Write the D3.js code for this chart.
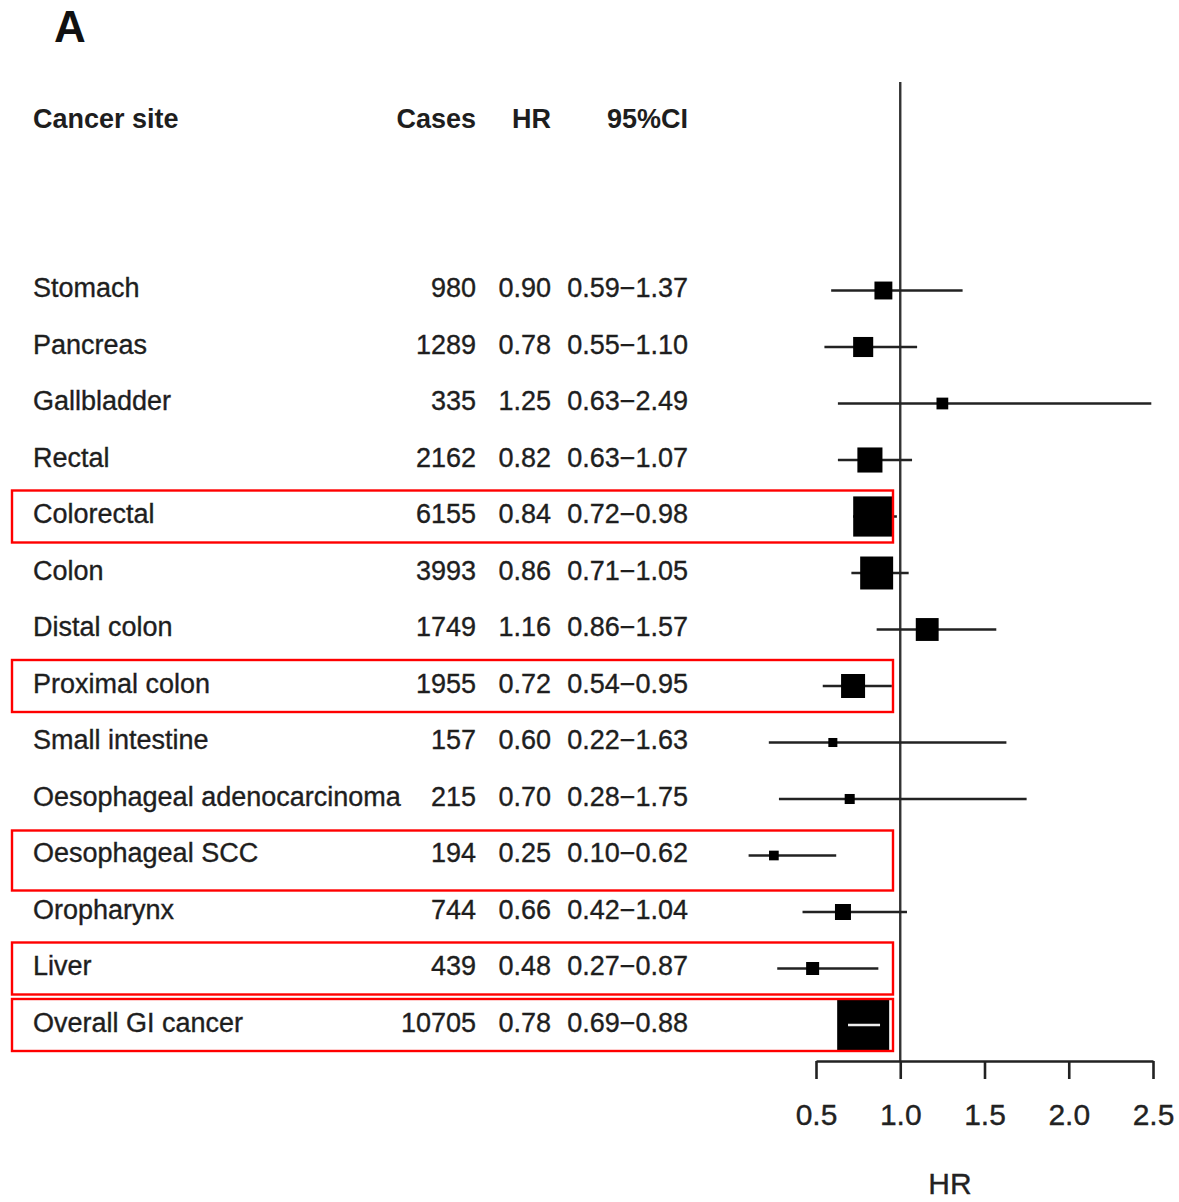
<!DOCTYPE html>
<html>
<head>
<meta charset="utf-8">
<script src="https://cdn.jsdelivr.net/npm/d3@7"></script>
<style>
  html, body { margin: 0; padding: 0; background: #fff; }
  svg { display: block; font-family: "Liberation Sans", Arial, sans-serif; }
</style>
</head>
<body>
<svg id="chart" width="1179" height="1202"></svg>
<script>
// ---- data ----
const sites = ["Stomach", "Pancreas", "Gallbladder", "Rectal", "Colorectal", "Colon",
  "Distal colon", "Proximal colon", "Small intestine", "Oesophageal adenocarcinoma",
  "Oesophageal SCC", "Oropharynx", "Liver", "Overall GI cancer"];
const cases = [980, 1289, 335, 2162, 6155, 3993, 1749, 1955, 157, 215, 194, 744, 439, 10705];
const hr    = [0.90, 0.78, 1.25, 0.82, 0.84, 0.86, 1.16, 0.72, 0.60, 0.70, 0.25, 0.66, 0.48, 0.78];
const lower = [0.59, 0.55, 0.63, 0.63, 0.72, 0.71, 0.86, 0.54, 0.22, 0.28, 0.10, 0.42, 0.27, 0.69];
const upper = [1.37, 1.10, 2.49, 1.07, 0.98, 1.05, 1.57, 0.95, 1.63, 1.75, 0.62, 1.04, 0.87, 0.88];
const highlighted = ["Colorectal", "Proximal colon", "Oesophageal SCC", "Liver", "Overall GI cancer"];
const xTicks = [0.5, 1.0, 1.5, 2.0, 2.5];
const headers = ["Cancer site", "Cases", "HR", "95%CI"];

const rows = sites.map((s, i) => ({ site: s, cases: cases[i], hr: hr[i], lo: lower[i], hi: upper[i] }));

// ---- layout ----
const svg = d3.select("#chart");
const x = d3.scaleLinear().domain([0.5, 2.5]).range([816, 1153]);
const y = d3.scalePoint().domain(sites).range([290.5, 1025]);
const maxCases = d3.max(cases);
const boxSize = c => 3.1 + (Math.sqrt(c) / Math.sqrt(maxCases)) * (52 - 3.1);

const ink = "#1e1e1e";
const fmt2 = d3.format(".2f");

// Title
svg.append("text").attr("x", 54).attr("y", 42)
  .attr("font-size", 44).attr("font-weight", "bold").attr("fill", "#111").text("A");

// Headers
const hdrY = 128;
const hdr = svg.append("g").attr("font-size", 27).attr("font-weight", "bold").attr("fill", ink);
hdr.append("text").attr("x", 33).attr("y", hdrY).text(headers[0]);
hdr.append("text").attr("x", 476).attr("y", hdrY).attr("text-anchor", "end").text(headers[1]);
hdr.append("text").attr("x", 551).attr("y", hdrY).attr("text-anchor", "end").text(headers[2]);
hdr.append("text").attr("x", 688).attr("y", hdrY).attr("text-anchor", "end").text(headers[3]);

// Table text
const tbl = svg.append("g").attr("font-size", 27).attr("fill", ink)
  .attr("stroke", ink).attr("stroke-width", 0.35);
const rowG = tbl.selectAll("g").data(rows).join("g")
  .attr("transform", d => `translate(0,${y(d.site) + 6.5})`);
rowG.append("text").attr("x", 33).text(d => d.site);
rowG.append("text").attr("x", 476).attr("text-anchor", "end").text(d => d.cases);
rowG.append("text").attr("x", 551).attr("text-anchor", "end").text(d => fmt2(d.hr));
rowG.append("text").attr("x", 688).attr("text-anchor", "end").text(d => fmt2(d.lo) + "\u2212" + fmt2(d.hi));

// Reference line at HR = 1
svg.append("line").attr("x1", x(1)).attr("x2", x(1)).attr("y1", 82).attr("y2", 1062)
  .attr("stroke", "#333").attr("stroke-width", 2.4);

// CI lines and boxes
const marks = svg.append("g");
rows.forEach(d => {
  const cy = y(d.site);
  const s = boxSize(d.cases);
  const inside = x(d.lo) >= x(d.hr) - s / 2 && x(d.hi) <= x(d.hr) + s / 2;
  if (!inside) {
    marks.append("line").attr("x1", x(d.lo)).attr("x2", x(d.hi)).attr("y1", cy).attr("y2", cy)
      .attr("stroke", "#222").attr("stroke-width", 2.7);
  }
  marks.append("rect").attr("x", x(d.hr) - s / 2).attr("y", cy - s / 2)
    .attr("width", s).attr("height", s).attr("fill", "#000");
  if (inside) {
    marks.append("line").attr("x1", x(d.lo)).attr("x2", x(d.hi)).attr("y1", cy).attr("y2", cy)
      .attr("stroke", "#eee").attr("stroke-width", 2.7);
  }
});

// X axis
const axisY = 1061;
const axis = d3.axisBottom(x).tickValues(xTicks).tickFormat(d3.format(".1f"))
  .tickSize(18).tickSizeOuter(0).tickPadding(25);
const ag = svg.append("g").attr("transform", `translate(0,${axisY})`).call(axis);
ag.select(".domain").attr("stroke", "#222").attr("stroke-width", 2.6);
ag.selectAll(".tick line").attr("stroke", "#222").attr("stroke-width", 2.6);
ag.selectAll(".tick text").attr("font-size", 30).attr("fill", "#222")
  .attr("stroke", "#222").attr("stroke-width", 0.35)
  .attr("font-family", "'Liberation Sans', Arial, sans-serif");

svg.append("text").attr("x", 950).attr("y", 1194).attr("text-anchor", "middle")
  .attr("font-size", 30).attr("fill", "#222").attr("stroke", "#222").attr("stroke-width", 0.35)
  .text("HR");

// Highlight rectangles
const pad = { "Oesophageal SCC": [25, 35] };
svg.append("g").selectAll("rect").data(highlighted).join("rect")
  .attr("x", 12).attr("width", 881)
  .attr("y", s => y(s) - (pad[s] ? pad[s][0] : 26))
  .attr("height", s => pad[s] ? pad[s][0] + pad[s][1] : 52)
  .attr("fill", "none").attr("stroke", "#ff0000").attr("stroke-width", 2.4);
</script>
</body>
</html>
